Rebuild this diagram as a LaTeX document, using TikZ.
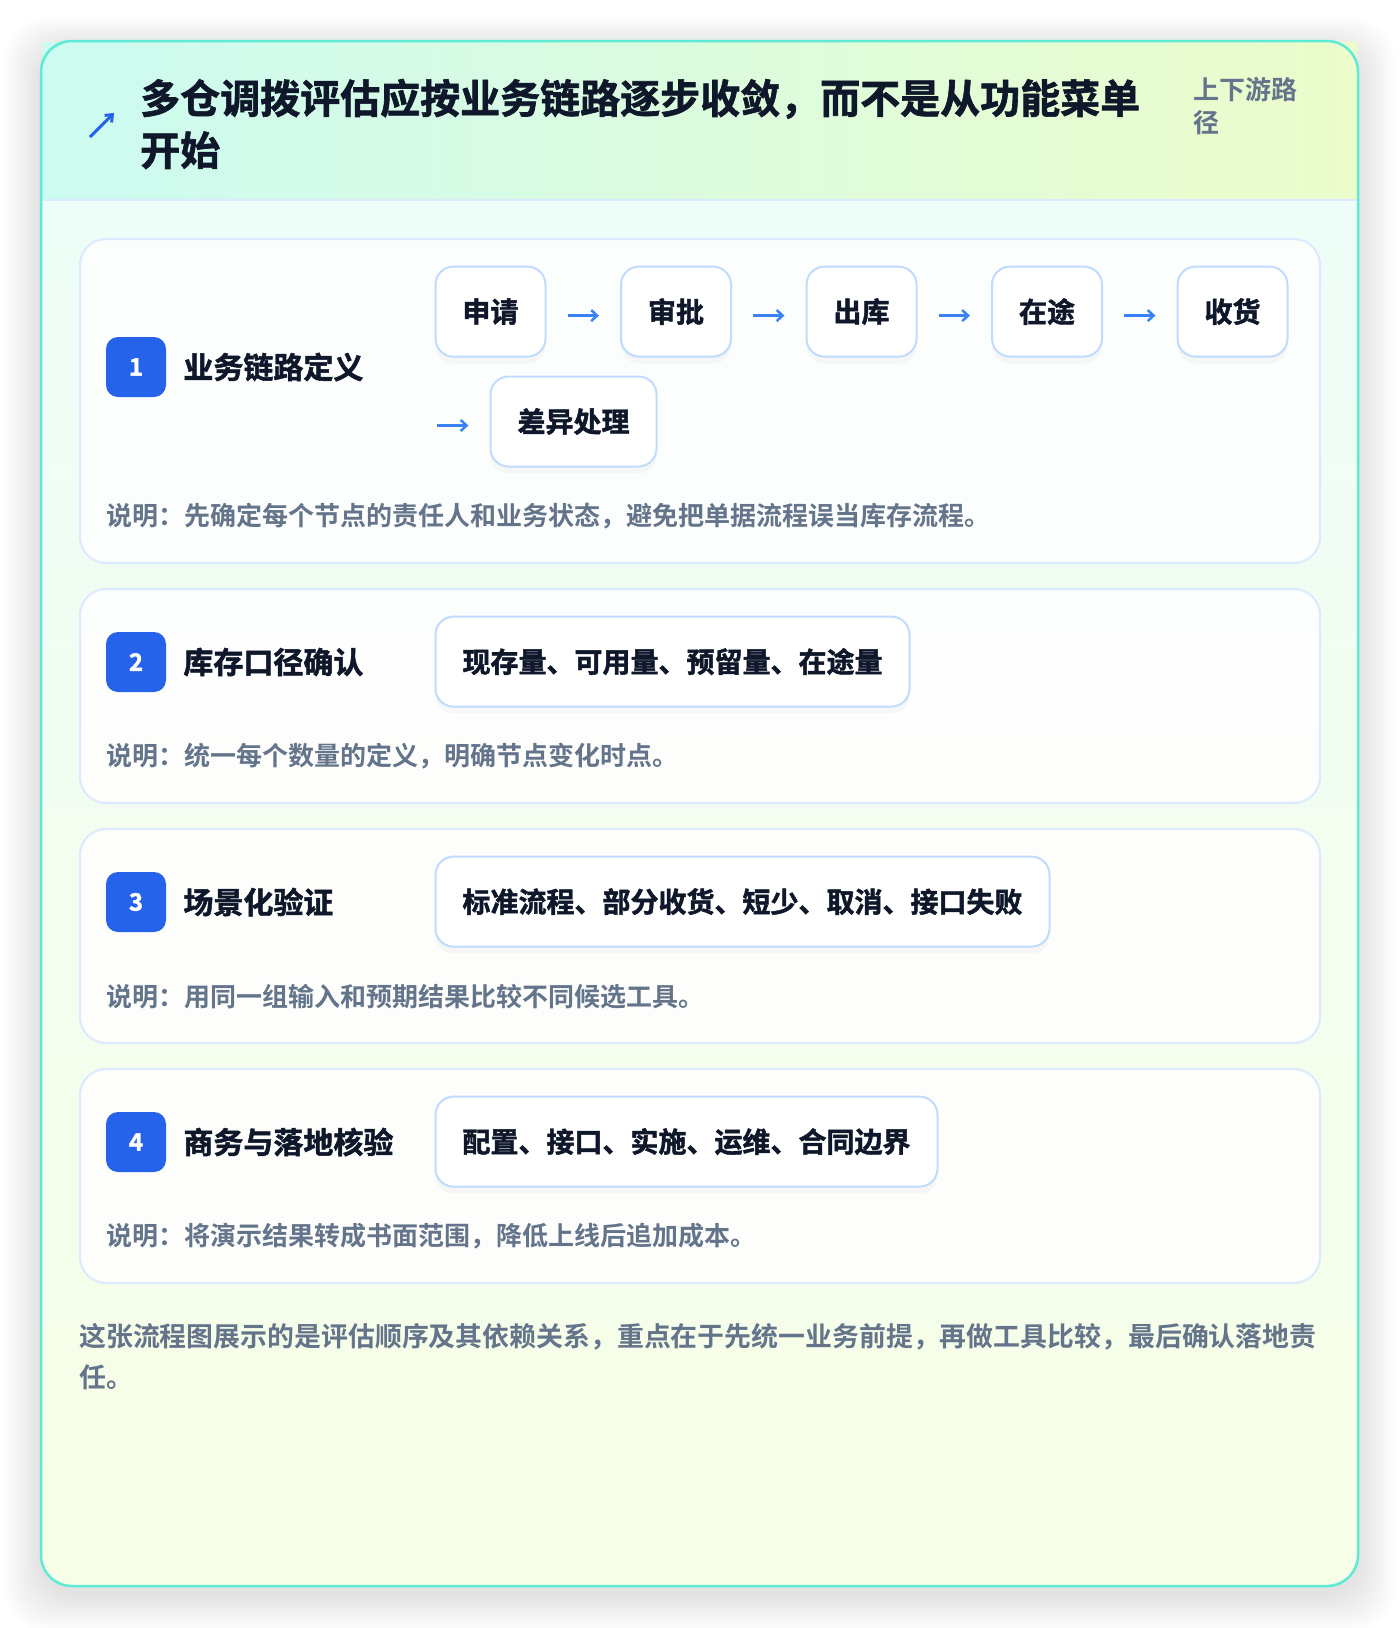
\documentclass[tikz,border=0pt]{standalone}
\usepackage{fontspec}
\setmainfont{Noto Sans CJK SC}[BoldFont={Noto Sans CJK SC Bold}]
\newfontfamily\heavyfont{Noto Sans CJK SC Bold}[FakeBold=1.6]
\usetikzlibrary{arrows.meta,positioning,shadows}

\definecolor{frameteal}{HTML}{5EEAD4}
\definecolor{headleft}{HTML}{CCFBF1}
\definecolor{headright}{HTML}{ECFCCB}
\definecolor{bodytop}{HTML}{EFFDF8}
\definecolor{bodybot}{HTML}{F7FEE7}
\definecolor{cardline}{HTML}{DBEAFE}
\definecolor{boxline}{HTML}{BFDBFE}
\definecolor{badgeblue}{HTML}{2563EB}
\definecolor{arrowblue}{HTML}{3B82F6}
\definecolor{inkdark}{HTML}{0F172A}
\definecolor{inkgray}{HTML}{64748B}

\begin{document}
\begin{tikzpicture}[x=1pt,y=-1pt,
      card/.style={
         draw=cardline,
         line width=2pt,
         fill=white,
         fill opacity=0.85,
         rounded corners=26pt,
         minimum width=1240pt,
         anchor=north west},
      badge/.style={
         rectangle,
         rounded corners=12pt,
         fill=badgeblue,
         text=white,
         inner sep=0pt,
         minimum size=60pt,
         font=\fontsize{24}{28}\heavyfont},
      cardtitle/.style={
         inner sep=0pt,
         text=inkdark,
         font=\fontsize{30}{36}\heavyfont},
      stepbox/.style={
         draw=boxline,
         line width=2pt,
         fill=white,
         rounded corners=18pt,
         minimum height=90pt,
         inner xsep=27pt,
         text=inkdark,
         font=\fontsize{28}{34}\heavyfont,
         drop shadow={opacity=0.05,shadow xshift=0pt,shadow yshift=-7pt}},
      note/.style={
         anchor=west,
         inner sep=0pt,
         text=inkgray,
         font=\fontsize{26}{32}\selectfont\bfseries},
      myarrow/.style={
         draw=arrowblue,
         line width=2.5pt,
         -{Straight Barb[length=6pt,width=11pt]}},
      node distance=20pt and 73.5pt
      ]
      \useasboundingbox (0,0) rectangle (1400,1628);
      \fill[white] (0,0) rectangle (1400,1628);

      % soft shadow of the outer frame
      \foreach \k in {1,...,14}
         \fill[black,opacity=0.007,rounded corners=40pt]
            (41-\k*2.6,49-\k*2.2) rectangle (1358+\k*2.6,1594+\k*2.6);

      \begin{scope}
         \clip[rounded corners=31pt] (41,41) rectangle (1358,1586);
         \shade[top color=bodytop,bottom color=bodybot] (41,200) rectangle (1358,1586);
      \end{scope}
      \shade[left color=headleft,right color=headright] (42,42) rectangle (1357,200);
      \draw[cardline,line width=2pt] (41,200) -- (1358,200);
      \draw[frameteal,line width=2.5pt,rounded corners=31pt] (41,41) rectangle (1358,1586);

      % header
      \coordinate (ha) at (90,137);
      \coordinate (hb) at (114,113);
      \draw[badgeblue,line width=3pt,-{Straight Barb[length=6pt,width=10pt]}] (ha) -- (hb);
      \node[anchor=west,align=left,inner sep=0pt,text=inkdark,
            font=\fontsize{40}{52}\heavyfont] (title) at (140,124)
            {多仓调拨评估应按业务链路逐步收敛，而不是从功能菜单\\开始};
      \node[anchor=west,align=left,inner sep=0pt,text=inkgray,
            font=\fontsize{26}{33}\selectfont\bfseries] (tag) at (1193,106)
            {上下游路\\径};

      % card 1: chain of steps
      \node[card,minimum height=324pt] (card1) at (79,238) {};
      \node[badge] (b1) at (136,367) {1};
      \node[cardtitle,right=17pt of b1] (t1) {业务链路定义};
      \node[stepbox,anchor=west] (s1) at (434.5,311.6) {申请};
      \node[stepbox,right=of s1] (s2) {审批};
      \node[stepbox,right=of s2] (s3) {出库};
      \node[stepbox,right=of s3] (s4) {在途};
      \node[stepbox,right=of s4] (s5) {收货};
      \node[stepbox,anchor=west] (s6) at (489.5,421.5) {差异处理};
      \coordinate (wrap) at (437,425.5);
      \foreach \i/\j in {s1/s2,s2/s3,s3/s4,s4/s5}
         \draw[myarrow,shorten <=21pt,shorten >=21pt]
            ([yshift=-4pt]\i.east) -- ([yshift=-4pt]\j.west);
      \draw[myarrow,shorten >=21pt] (wrap) -- ([yshift=-4pt]s6.west);
      \node[note] (n1) at (106,516.4) {说明：先确定每个节点的责任人和业务状态，避免把单据流程误当库存流程。};

      % cards 2-4
      \foreach \n/\top/\ttl/\items/\txt in {%
         2/588/{库存口径确认}/{现存量、可用量、预留量、在途量}/{说明：统一每个数量的定义，明确节点变化时点。},
         3/828/{场景化验证}/{标准流程、部分收货、短少、取消、接口失败}/{说明：用同一组输入和预期结果比较不同候选工具。},
         4/1068/{商务与落地核验}/{配置、接口、实施、运维、合同边界}/{说明：将演示结果转成书面范围，降低上线后追加成本。}}
      {
         \node[card,minimum height=214pt] (card\n) at (79,\top) {};
         \node[badge] (b\n) at (136,\top+74) {\n};
         \node[cardtitle,right=17pt of b\n] (t\n) {\ttl};
         \node[stepbox,anchor=west] (box\n) at (434.5,\top+73.6) {\items};
         \node[note] (n\n) at (106,\top+168.5) {\txt};
      }

      % closing remark
      \node[anchor=west,align=left,inner sep=0pt,text=inkgray,
            font=\fontsize{26.9}{41.5}\selectfont\bfseries] (remark) at (79,1356.4)
            {这张流程图展示的是评估顺序及其依赖关系，重点在于先统一业务前提，再做工具比较，最后确认落地责\\任。};
\end{tikzpicture}
\end{document}
